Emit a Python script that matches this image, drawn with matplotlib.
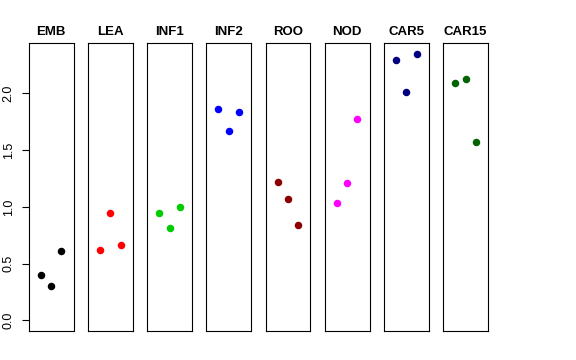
import matplotlib
matplotlib.use("Agg")
import matplotlib.pyplot as plt

groups = ["EMB", "LEA", "INF1", "INF2", "ROO", "NOD", "CAR5", "CAR15"]
colors = ["black", "red", "#00CD00", "blue", "#8B0000", "magenta", "#000080", "#006400"]
pos = [1, 2, 3]
values = {
    "EMB":   [0.40, 0.30, 0.61],
    "LEA":   [0.62, 0.95, 0.66],
    "INF1":  [0.95, 0.81, 1.00],
    "INF2":  [1.86, 1.67, 1.84],
    "ROO":   [1.22, 1.07, 0.84],
    "NOD":   [1.03, 1.21, 1.77],
    "CAR5":  [2.29, 2.01, 2.35],
    "CAR15": [2.09, 2.13, 1.57],
}
yticks = [0.0, 0.5, 1.0, 1.5, 2.0]

plt.rcParams.update({"font.family": ["Liberation Sans", "DejaVu Sans"], "font.size": 9})
W, H = 576, 360
fig = plt.figure(figsize=(W / 100, H / 100), dpi=100)

ymax = max(max(v) for v in values.values())
ypad = 0.04 * ymax
left0, width, step, top, bottom = 28.7, 44.8, 59.2, 43, 331

for i, (g, col) in enumerate(zip(groups, colors)):
    x0 = left0 + i * step
    ax = fig.add_axes([x0 / W, 1 - bottom / H, width / W, (bottom - top) / H])
    ax.plot(pos, values[g], "o", color=col, ms=4.4, mec=col)
    ax.set_xlim(-0.16, 4.16)
    ax.set_ylim(0 - ypad, ymax + ypad)
    ax.set_xticks([])
    for sp in ax.spines.values():
        sp.set_linewidth(0.8)
        sp.set_color("black")
    ax.set_title(g, fontweight="bold", fontsize=9.5, pad=6)
    if i == 0:
        ax.set_yticks(yticks)
        ax.set_yticklabels(["%.1f" % t for t in yticks], rotation=90, va="center")
        ax.tick_params(axis="y", length=5, width=0.8, pad=5)
    else:
        ax.set_yticks([])

fig.savefig("out.png", dpi=100)
